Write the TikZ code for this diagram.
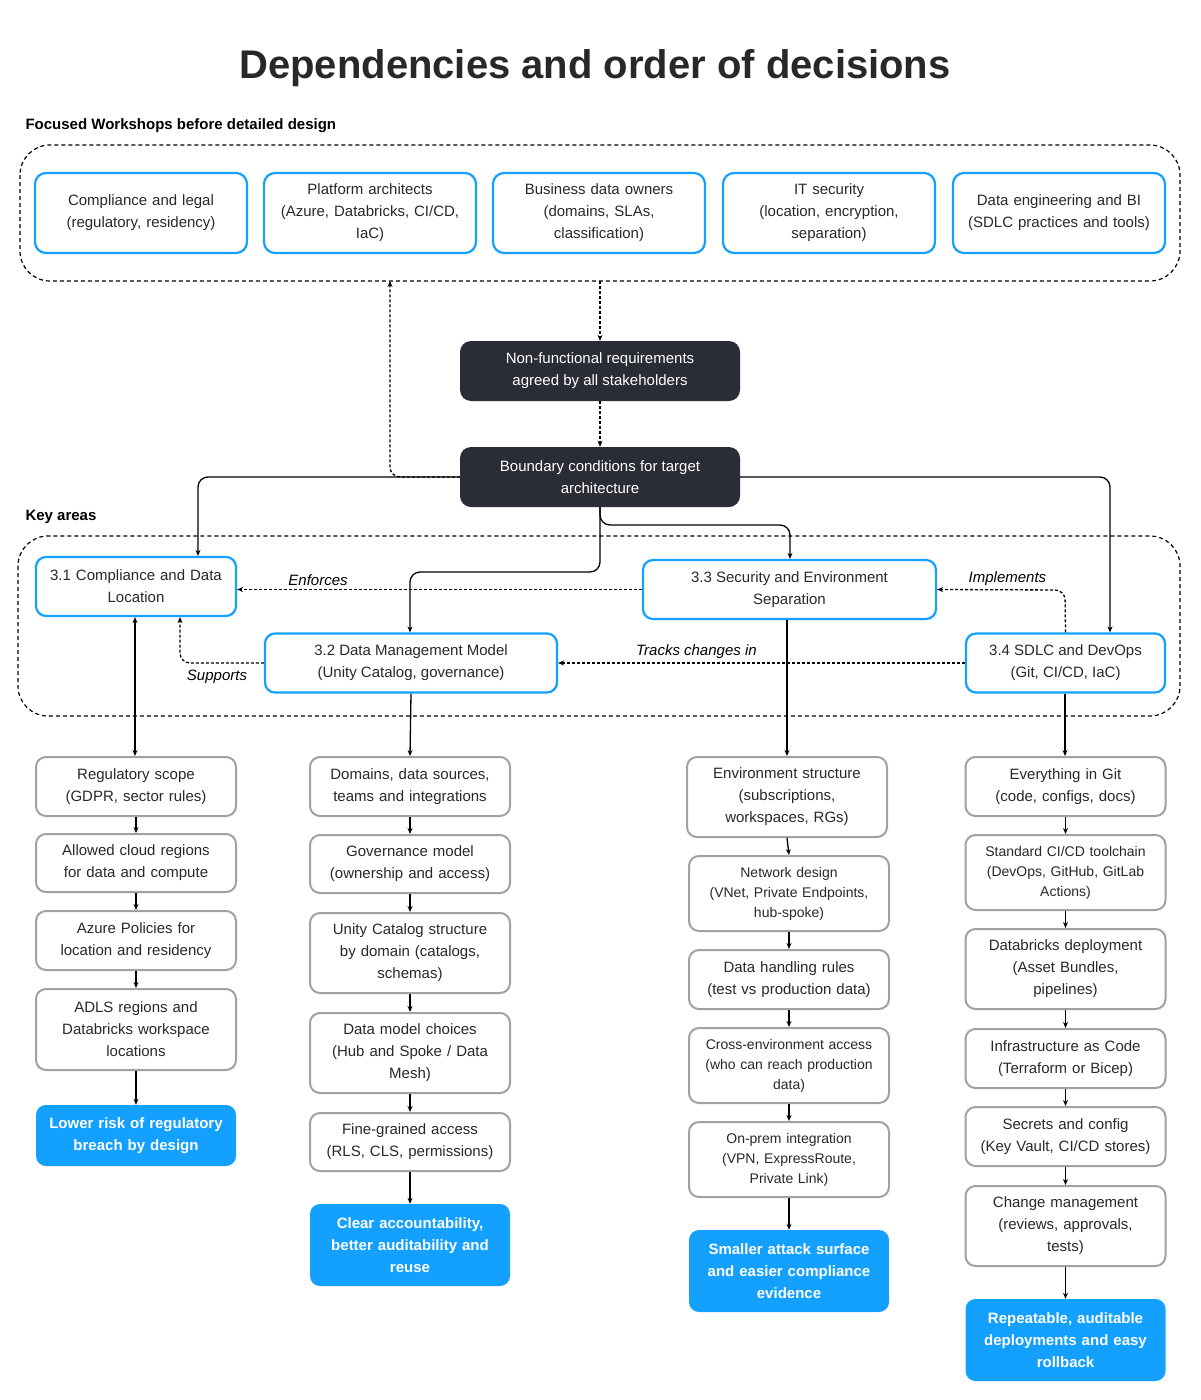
\documentclass[tikz,border=0pt]{standalone}
\usepackage{fontspec}
\setmainfont{Liberation Sans}
\usetikzlibrary{arrows.meta}
\definecolor{azure}{RGB}{20,160,255}
\definecolor{inkdark}{RGB}{43,45,54}
\definecolor{frame}{RGB}{160,160,165}
\definecolor{txt}{RGB}{40,40,40}

\begin{document}
\begin{tikzpicture}[x=1pt,y=-1pt,
  every node/.style={text=txt,font=\fontsize{15}{22}\selectfont},
  ws/.style={draw=azure,line width=2.2pt,rounded corners=11pt,align=center,minimum width=212pt,minimum height=80pt,inner sep=2pt,text width=205pt},
  area/.style={draw=azure,line width=2.2pt,rounded corners=10pt,align=center,minimum height=59pt,inner sep=2pt},
  dark/.style={fill=inkdark,rounded corners=11pt,align=center,minimum width=280pt,minimum height=60pt,text=white},
  task/.style={draw=frame,line width=2pt,rounded corners=10pt,align=center,minimum width=200pt,text width=192pt,inner sep=2pt},
  goal/.style={fill=azure,rounded corners=10pt,align=center,minimum width=200pt,text width=192pt,inner sep=2pt,text=white,font=\fontsize{15}{22}\selectfont\bfseries},
  link/.style={-{Stealth[length=6pt,width=5pt]},line width=1.3pt,black,rounded corners=10pt},
  dlink/.style={link,dash pattern=on 3pt off 2pt},
  tag/.style={font=\fontsize{15}{18}\selectfont\itshape,text=black}]
\useasboundingbox (0,0) rectangle (1200,1400);

\node[font=\fontsize{40}{44}\selectfont\bfseries] (title) at (595,68) {Dependencies and order of decisions};

% workshops
\node[anchor=west,font=\fontsize{15}{18}\selectfont\bfseries,text=black] (wslbl) at (22,126) {Focused Workshops before detailed design};
\draw[line width=1.2pt,dash pattern=on 4pt off 3pt,rounded corners=30pt] (20,145) rectangle (1180,281);
\coordinate (wsbot) at (600,281);
\coordinate (wsret) at (390,281);
\node[ws] (legal) at (141,213) {Compliance and legal\\(regulatory, residency)};
\node[ws] (arch) at (370,213) {Platform architects\\(Azure, Databricks, CI/CD,\\IaC)};
\node[ws] (owners) at (599,213) {Business data owners\\(domains, SLAs,\\classification)};
\node[ws] (itsec) at (829,213) {IT security\\(location, encryption,\\separation)};
\node[ws] (dataeng) at (1059,213) {Data engineering and BI\\(SDLC practices and tools)};

\node[dark] (nfr) at (600,371) {Non-functional requirements\\agreed by all stakeholders};
\node[dark] (bound) at (600,477) {Boundary conditions for target\\architecture};
\draw[dlink] (wsbot) -- (nfr.north);
\draw[dlink] (nfr.south) -- (bound.north);
\draw[dlink] (bound.west) -- (390,477) -- (wsret);

% key areas
\node[anchor=west,font=\fontsize{15}{18}\selectfont\bfseries,text=black] (kalbl) at (22,517) {Key areas};
\draw[line width=1.2pt,dash pattern=on 4pt off 3pt,rounded corners=30pt] (18,536) rectangle (1180,716);
\node[area,minimum width=200pt,text width=195pt] (comp) at (136,586.5) {3.1 Compliance and Data\\Location};
\node[area,minimum width=293pt] (sec) at (789.5,589.5) {3.3 Security and Environment\\Separation};
\node[area,minimum width=292pt] (mgmt) at (411,663) {3.2 Data Management Model\\(Unity Catalog, governance)};
\node[area,minimum width=199pt] (sdlc) at (1065.5,663) {3.4 SDLC and DevOps\\(Git, CI/CD, IaC)};

\draw[link] (bound.west) -- (198,477) -- (comp.north -| 198,0);
\draw[link] (bound.east) -- (1110,477) -- (sdlc.north -| 1110,0);
\draw[link] (bound.south) -- (600,525) -- (790,525) -- (sec.north -| 790,0);
\draw[link] (bound.south) -- (600,572) -- (410,572) -- (mgmt.north -| 410,0);

\draw[dlink] (sec.west) -- (comp.east |- sec.west) node[tag,pos=0.8,above] {Enforces};
\draw[dlink] (sdlc.west) -- (mgmt.east) node[tag,pos=0.66,above] {Tracks changes in};
\draw[dlink] (sdlc.north) -- (1065,590) -- (sec.east) node[tag,pos=0.45,above] {Implements};
\draw[dlink] (mgmt.west) -- (180,663) -- (comp.south -| 180,0);
\node[tag] (supports) at (217,677) {Supports};

% column 3.1
\node[task,minimum height=59pt] (scope) at (136,786.5) {Regulatory scope\\(GDPR, sector rules)};
\node[task,minimum height=58pt] (regions) at (136,863) {Allowed cloud regions\\for data and compute};
\node[task,minimum height=59pt] (policy) at (136,940.5) {Azure Policies for\\location and residency};
\node[task,minimum height=81pt] (adls) at (136,1029.5) {ADLS regions and\\Databricks workspace\\locations};
\node[goal,minimum height=61pt] (out1) at (136,1135.5) {Lower risk of regulatory\\breach by design};
\draw[link,{Stealth[length=6pt,width=5pt]}-{Stealth[length=6pt,width=5pt]}] (comp.south -| 135,0) -- (scope.north -| 135,0);

% column 3.2
\node[task,minimum height=59pt] (domains) at (410,786.5) {Domains, data sources,\\teams and integrations};
\node[task,minimum height=58pt] (govmodel) at (410,864) {Governance model\\(ownership and access)};
\node[task,minimum height=80pt] (ucs) at (410,953) {Unity Catalog structure\\by domain (catalogs,\\schemas)};
\node[task,minimum height=80pt] (dmodel) at (410,1053) {Data model choices\\(Hub and Spoke / Data\\Mesh)};
\node[task,minimum height=58pt] (fine) at (410,1142) {Fine-grained access\\(RLS, CLS, permissions)};
\node[goal,minimum height=82pt] (out2) at (410,1245) {Clear accountability,\\better auditability and\\reuse};
\draw[link] (mgmt.south) -- (domains.north);

% column 3.3
\node[task,minimum height=80pt] (envs) at (787,797) {Environment structure\\(subscriptions,\\workspaces, RGs)};
\node[task,minimum height=75pt,font=\fontsize{14}{20}\selectfont] (network) at (789,893.5) {Network design\\(VNet, Private Endpoints,\\hub-spoke)};
\node[task,minimum height=59pt] (handling) at (789,979.5) {Data handling rules\\(test vs production data)};
\node[task,minimum height=75pt,font=\fontsize{14}{20}\selectfont] (cross) at (789,1065.5) {Cross-environment access\\(who can reach production\\data)};
\node[task,minimum height=75pt,font=\fontsize{14}{20}\selectfont] (onprem) at (789,1159.5) {On-prem integration\\(VPN, ExpressRoute,\\Private Link)};
\node[goal,minimum height=82pt] (out3) at (789,1271) {Smaller attack surface\\and easier compliance\\evidence};
\draw[link] (sec.south -| 787,0) -- (envs.north);

% column 3.4
\node[task,minimum height=59pt] (git) at (1065.5,786.5) {Everything in Git\\(code, configs, docs)};
\node[task,minimum height=75pt,font=\fontsize{14}{20}\selectfont] (toolchain) at (1065.5,872.5) {Standard CI/CD toolchain\\(DevOps, GitHub, GitLab\\Actions)};
\node[task,minimum height=80pt] (bundles) at (1065.5,969) {Databricks deployment\\(Asset Bundles,\\pipelines)};
\node[task,minimum height=59pt] (iac) at (1065.5,1058.5) {Infrastructure as Code\\(Terraform or Bicep)};
\node[task,minimum height=59pt] (secrets) at (1065.5,1136.5) {Secrets and config\\(Key Vault, CI/CD stores)};
\node[task,minimum height=80pt] (change) at (1065.5,1226) {Change management\\(reviews, approvals,\\tests)};
\node[goal,minimum height=82pt] (out4) at (1065.5,1340) {Repeatable, auditable\\deployments and easy\\rollback};
\draw[link] (sdlc.south -| 1065,0) -- (git.north -| 1065,0);

\foreach \a/\b in {scope/regions,regions/policy,policy/adls,adls/out1,
  domains/govmodel,govmodel/ucs,ucs/dmodel,dmodel/fine,fine/out2,
  envs/network,network/handling,handling/cross,cross/onprem,onprem/out3,
  git/toolchain,toolchain/bundles,bundles/iac,iac/secrets,secrets/change,change/out4}
  \draw[link] (\a.south) -- (\b.north);
\end{tikzpicture}
\end{document}
